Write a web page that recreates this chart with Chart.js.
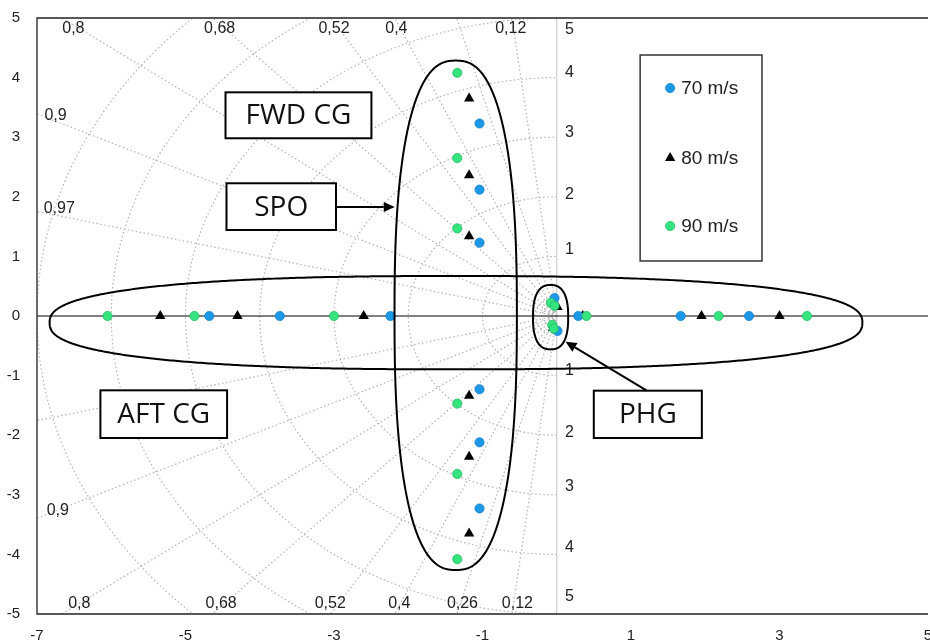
<!DOCTYPE html>
<html>
<head>
<meta charset="utf-8">
<script src="https://cdn.jsdelivr.net/npm/chart.js@4.4.1/dist/chart.umd.min.js"></script>
<style>
  html, body { margin: 0; padding: 0; background: #fff; overflow: hidden; }
  #wrap { position: relative; width: 934px; height: 643px; }
</style>
</head>
<body>
<div id="wrap"><canvas id="c"></canvas></div>
<script>
// tick labels
const xTicks = [-7, -5, -3, -1, 1, 3, 5];
const yTicks = [-5, -4, -3, -2, -1, 0, 1, 2, 3, 4, 5];

const re70 = [-4.68, -3.73, -2.24, 0.29, 1.67, 2.59, -1.04, -1.04, -1.04, -1.04, -1.04, -1.04, -0.03, 0.01];
const im70 = [0, 0, 0, 0, 0, 0, 3.23, 2.12, 1.23, -1.23, -2.12, -3.23, 0.30, -0.25];

const re80 = [-5.34, -4.30, -2.60, 0.35, 1.95, 3.00, -1.18, -1.18, -1.18, -1.18, -1.18, -1.18, 0.01, -0.05];
const im80 = [0, 0, 0, 0, 0, 0, 3.65, 2.36, 1.34, -1.34, -2.36, -3.65, 0.15, -0.20];

const re90 = [-6.05, -4.88, -3.00, 0.40, 2.18, 3.37, -1.34, -1.34, -1.34, -1.34, -1.34, -1.34, -0.08, -0.03, -0.06, -0.04];
const im90 = [0, 0, 0, 0, 0, 0, 4.08, 2.65, 1.47, -1.47, -2.65, -4.08, 0.22, 0.17, -0.15, -0.21];

// s-plane grid: damping ratio rays and natural frequency circles
const zetaLines = [0.12, 0.26, 0.4, 0.52, 0.68, 0.8, 0.9, 0.97];
const wnCircles = [0.1, 0.2, 0.3, 1, 2, 3, 4, 5, 6, 7];

const zetaLabels = [
  { t: '0,8', x: -6.51, y: 4.83 }, { t: '0,68', x: -4.54, y: 4.83 }, { t: '0,52', x: -3.0, y: 4.83 },
  { t: '0,4', x: -2.16, y: 4.83 }, { t: '0,12', x: -0.62, y: 4.83 },
  { t: '0,9', x: -6.75, y: 3.37 }, { t: '0,97', x: -6.70, y: 1.80 }, { t: '0,9', x: -6.72, y: -3.26 },
  { t: '0,8', x: -6.43, y: -4.82 }, { t: '0,68', x: -4.52, y: -4.82 }, { t: '0,52', x: -3.05, y: -4.82 },
  { t: '0,4', x: -2.12, y: -4.82 }, { t: '0,26', x: -1.27, y: -4.82 }, { t: '0,12', x: -0.53, y: -4.82 }
];
const wnLabels = [
  { t: '5', y: 4.80 }, { t: '4', y: 4.08 }, { t: '3', y: 3.07 }, { t: '2', y: 2.03 }, { t: '1', y: 1.11 },
  { t: '1', y: -0.91 }, { t: '2', y: -1.95 }, { t: '3', y: -2.87 }, { t: '4', y: -3.89 }, { t: '5', y: -4.71 }
];

// annotations, in axis units
const blobs = [
  { cx: -1.357, cy: -0.112, rx: 5.473, ry: 0.783 },
  { cx: -1.361, cy: 0.012, rx: 0.824, ry: 4.273 },
  { cx: -0.083, cy: -0.02, rx: 0.237, ry: 0.54 }
];
const boxes = [
  { t: 'FWD CG', x1: -4.461, x2: -2.496, y1: 3.753, y2: 2.982 },
  { t: 'SPO', x1: -4.448, x2: -2.973, y1: 2.227, y2: 1.443 },
  { t: 'AFT CG', x1: -6.146, x2: -4.440, y1: -1.247, y2: -2.047 },
  { t: 'PHG', x1: 0.499, x2: 1.954, y1: -1.253, y2: -2.047 }
];
const arrows = [
  { x1: -2.973, y1: 1.829, x2: -2.182, y2: 1.829 },
  { x1: 1.213, y1: -1.253, x2: 0.118, y2: -0.431 }
];
const legendBox = { x1: 1.123, x2: 2.764, y1: 4.379, y2: 0.923 };

const pts = (re, im) => re.map((v, i) => ({ x: v, y: im[i] }));
const TICK_FONT = '15px "Liberation Sans", Arial, sans-serif';
const NOTE_FONT = '16px "Liberation Sans", Arial, sans-serif';

function marker(ctx, ds, x, y) {
  ctx.save();
  ctx.fillStyle = ds.backgroundColor;
  ctx.strokeStyle = ds.borderColor;
  ctx.lineWidth = ds.borderWidth;
  ctx.beginPath();
  if (ds.pointStyle === 'triangle') {
    const r = ds.pointRadius;
    for (let k = 0; k < 3; k++) {
      const a = k * 2 * Math.PI / 3;
      const xx = x + Math.sin(a) * r, yy = y - Math.cos(a) * r;
      k ? ctx.lineTo(xx, yy) : ctx.moveTo(xx, yy);
    }
    ctx.closePath();
  } else {
    ctx.arc(x, y, ds.pointRadius, 0, 2 * Math.PI);
  }
  ctx.fill();
  if (ds.borderWidth) ctx.stroke();
  ctx.restore();
}

const gridPlugin = {
  id: 'sgrid',
  beforeDatasetsDraw(chart) {
    const { ctx, chartArea: a, scales: { x, y } } = chart;
    const ox = x.getPixelForValue(0), oy = y.getPixelForValue(0);
    const ux = x.getPixelForValue(1) - ox, uy = oy - y.getPixelForValue(1);
    ctx.save();
    ctx.beginPath();
    ctx.rect(a.left, a.top, a.right - a.left, a.bottom - a.top);
    ctx.clip();
    ctx.strokeStyle = '#b4b4b4';
    ctx.lineWidth = 1.2;
    ctx.setLineDash([1.5, 2.5]);
    wnCircles.forEach(r => {
      ctx.beginPath();
      ctx.ellipse(ox, oy, r * ux, r * uy, 0, Math.PI / 2, 3 * Math.PI / 2);
      ctx.stroke();
    });
    zetaLines.forEach(z => {
      const s = Math.sqrt(1 - z * z);
      [1, -1].forEach(sg => {
        ctx.beginPath();
        ctx.moveTo(ox, oy);
        ctx.lineTo(x.getPixelForValue(-z * 20), y.getPixelForValue(sg * s * 20));
        ctx.stroke();
      });
    });
    ctx.setLineDash([]);
    // imaginary axis
    ctx.strokeStyle = '#c4c4c4';
    ctx.lineWidth = 1;
    ctx.beginPath(); ctx.moveTo(ox, a.top); ctx.lineTo(ox, a.bottom); ctx.stroke();
    // real axis
    ctx.strokeStyle = '#000';
    ctx.beginPath(); ctx.moveTo(a.left, oy); ctx.lineTo(a.right, oy); ctx.stroke();
    ctx.restore();

    // frame
    ctx.save();
    ctx.strokeStyle = '#222';
    ctx.lineWidth = 1.3;
    ctx.beginPath();
    ctx.moveTo(a.right, a.top); ctx.lineTo(a.left, a.top); ctx.lineTo(a.left, a.bottom); ctx.lineTo(a.right, a.bottom);
    ctx.stroke();

    ctx.fillStyle = '#222';
    ctx.font = NOTE_FONT;
    ctx.textAlign = 'center';
    ctx.textBaseline = 'middle';
    zetaLabels.forEach(l => ctx.fillText(l.t, x.getPixelForValue(l.x), y.getPixelForValue(l.y)));
    wnLabels.forEach(l => ctx.fillText(l.t, x.getPixelForValue(0.17), y.getPixelForValue(l.y)));
    ctx.restore();
  }
};

const notesPlugin = {
  id: 'notes',
  afterDatasetsDraw(chart) {
    const { ctx, scales: { x, y } } = chart;
    const X = v => x.getPixelForValue(v), Y = v => y.getPixelForValue(v);
    ctx.save();
    ctx.strokeStyle = '#000';
    ctx.lineWidth = 2;
    const n = 2.5;
    blobs.forEach(e => {
      const cx = X(e.cx), cy = Y(e.cy);
      const rx = X(e.cx + e.rx) - cx, ry = cy - Y(e.cy + e.ry);
      ctx.beginPath();
      for (let i = 0; i <= 720; i++) {
        const t = i / 720 * 2 * Math.PI, c = Math.cos(t), s = Math.sin(t);
        const px = cx + rx * Math.sign(c) * Math.pow(Math.abs(c), 2 / n);
        const py = cy + ry * Math.sign(s) * Math.pow(Math.abs(s), 2 / n);
        i ? ctx.lineTo(px, py) : ctx.moveTo(px, py);
      }
      ctx.closePath();
      ctx.stroke();
    });

    ctx.font = '28px "Open Sans", "Noto Sans", sans-serif';
    ctx.textAlign = 'center';
    ctx.textBaseline = 'middle';
    boxes.forEach(b => {
      const x1 = X(b.x1), x2 = X(b.x2), y1 = Y(b.y1), y2 = Y(b.y2);
      ctx.fillStyle = '#fff';
      ctx.fillRect(x1, y1, x2 - x1, y2 - y1);
      ctx.strokeRect(x1, y1, x2 - x1, y2 - y1);
      ctx.fillStyle = '#111';
      ctx.fillText(b.t, (x1 + x2) / 2, (y1 + y2) / 2 + 1);
    });

    arrows.forEach(r => {
      const x1 = X(r.x1), y1 = Y(r.y1), x2 = X(r.x2), y2 = Y(r.y2);
      const ang = Math.atan2(y2 - y1, x2 - x1), L = 11, W = 5;
      const bx = x2 - Math.cos(ang) * L, by = y2 - Math.sin(ang) * L;
      ctx.beginPath(); ctx.moveTo(x1, y1); ctx.lineTo(bx, by); ctx.stroke();
      ctx.fillStyle = '#000';
      ctx.beginPath();
      ctx.moveTo(x2, y2);
      ctx.lineTo(bx - Math.sin(ang) * W, by + Math.cos(ang) * W);
      ctx.lineTo(bx + Math.sin(ang) * W, by - Math.cos(ang) * W);
      ctx.closePath();
      ctx.fill();
    });

    // legend
    const lx1 = X(legendBox.x1), lx2 = X(legendBox.x2), ly1 = Y(legendBox.y1), ly2 = Y(legendBox.y2);
    ctx.fillStyle = '#fff';
    ctx.fillRect(lx1, ly1, lx2 - lx1, ly2 - ly1);
    ctx.strokeStyle = '#333';
    ctx.lineWidth = 1.5;
    ctx.strokeRect(lx1, ly1, lx2 - lx1, ly2 - ly1);
    ctx.font = '19px "Liberation Sans", Arial, sans-serif';
    ctx.textAlign = 'left';
    ctx.fillStyle = '#222';
    const rows = [33, 103, 171];
    chart.data.datasets.forEach((ds, i) => {
      const yy = ly1 + rows[i];
      marker(ctx, ds, lx1 + 30, yy);
      ctx.fillStyle = '#222';
      ctx.fillText(ds.label, lx1 + 41, yy + 1);
    });
    ctx.restore();
  }
};

const axisTicks = vals => s => { s.ticks = vals.map(v => ({ value: v })); };

new Chart(document.getElementById('c'), {
  type: 'scatter',
  data: {
    datasets: [
      { label: '70 m/s', data: pts(re70, im70), pointStyle: 'circle', pointRadius: 4.6,
        backgroundColor: '#1d98e6', borderColor: '#1584cc', borderWidth: 0.8, order: 1 },
      { label: '80 m/s', data: pts(re80, im80), pointStyle: 'triangle', pointRadius: 6,
        backgroundColor: '#000', borderColor: '#000', borderWidth: 0, order: 2 },
      { label: '90 m/s', data: pts(re90, im90), pointStyle: 'circle', pointRadius: 4.6,
        backgroundColor: '#35e37f', borderColor: '#25bf66', borderWidth: 0.8, order: 0 }
    ]
  },
  options: {
    responsive: true,
    maintainAspectRatio: false,
    animation: false,
    layout: { padding: { top: 18, right: 1.5, left: 0, bottom: 0 } },
    plugins: { legend: { display: false }, tooltip: { enabled: false } },
    scales: {
      x: {
        type: 'linear', min: -7, max: 5,
        afterBuildTicks: axisTicks(xTicks),
        afterFit: s => { s.height = 29; s.paddingLeft = 0; s.paddingRight = 0; },
        grid: { display: false, drawTicks: false },
        border: { display: false },
        ticks: { padding: 13, color: '#222', font: { family: '"Liberation Sans", Arial, sans-serif', size: 15 }, callback: v => String(v) }
      },
      y: {
        type: 'linear', min: -5, max: 5,
        afterBuildTicks: axisTicks(yTicks),
        afterFit: s => { s.width = 37; s.paddingTop = 0; s.paddingBottom = 0; },
        grid: { display: false, drawTicks: false },
        border: { display: false },
        ticks: { padding: 17, color: '#222', font: { family: '"Liberation Sans", Arial, sans-serif', size: 15 }, callback: v => String(v) }
      }
    }
  },
  plugins: [gridPlugin, notesPlugin]
});
</script>
</body>
</html>
